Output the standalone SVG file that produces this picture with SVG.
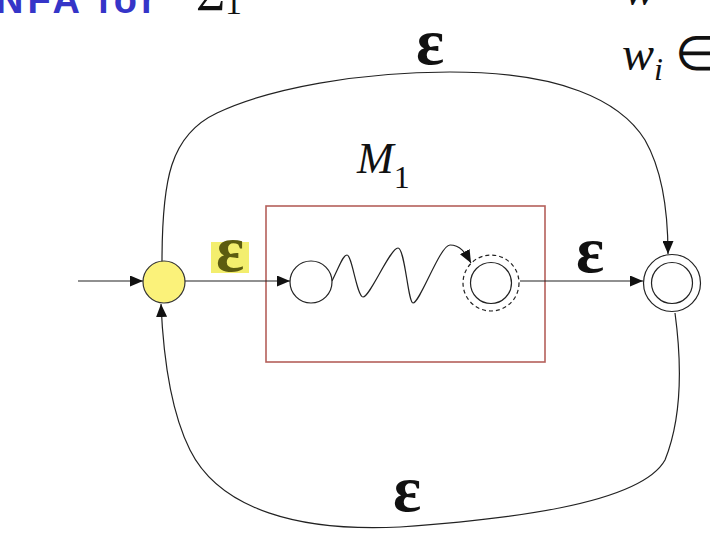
<svg xmlns="http://www.w3.org/2000/svg" width="710" height="542" viewBox="0 0 710 542">
<style>
.edge{fill:none;stroke:#222;stroke-width:1.2}
.state{fill:#fff;stroke:#222;stroke-width:1.2}
.eps{font-family:"Liberation Serif",serif;font-weight:bold;font-size:66px;fill:#111;text-anchor:middle}
.math{font-family:"Liberation Serif",serif;fill:#111}
</style>
<defs>
<marker id="ah" viewBox="0 0 13 11" refX="13" refY="5.5" markerWidth="13" markerHeight="11" markerUnits="userSpaceOnUse" orient="auto">
<path d="M0,0 L13,5.5 L0,11 z" fill="#111"/>
</marker>
</defs>
<rect width="710" height="542" fill="#fff"/>
<text x="-4" y="13" font-family="Liberation Sans,sans-serif" font-weight="bold" font-size="38" letter-spacing="4" fill="#3535c8">NFA for</text>
<text class="math" x="196" y="10" font-size="50">Σ<tspan font-size="34" dy="4">1</tspan></text>
<text class="math" x="624" y="5" font-size="48" font-style="italic">w</text>
<text class="math" x="622" y="70" font-size="48"><tspan font-style="italic">w</tspan><tspan font-style="italic" font-size="32" dy="10">i</tspan><tspan dy="-10" dx="12">∈</tspan></text>

<rect id="box" x="266" y="206" width="279" height="156" fill="none" stroke="#b5605a" stroke-width="1.6"/>
<text id="m1label" class="math" x="357" y="173" font-size="44" font-style="italic">M<tspan font-style="normal" font-size="32" dy="15">1</tspan></text>

<g id="connectors">
<line class="edge" x1="78" y1="281" x2="143" y2="281" marker-end="url(#ah)"/>
<line class="edge" x1="185" y1="281" x2="290" y2="281" marker-end="url(#ah)"/>
<path class="edge" d="M332,281 C340,265 343,255 347,255 C352,255 357,297 363,297 C370,297 390,248 398,248 C405,248 408,303 413,303 C420,303 440,245 450,245 C460,245 465,252 471,263" marker-end="url(#ah)"/>
<line class="edge" x1="520" y1="281" x2="643" y2="281" marker-end="url(#ah)"/>
<path class="edge" d="M162,262 C162,180 170,135 217,113 C270,88 360,72 450,72 C560,72 620,100 645,140 C665,175 668,220 668,254" marker-end="url(#ah)"/>
<path class="edge" d="M675,313 C680,350 685,410 665,460 C640,505 500,520 400,527 C300,532 220,510 190,450 C170,410 163,350 161,304" marker-end="url(#ah)"/>
</g>

<g id="eps-start">
<rect x="211" y="242" width="38" height="31" fill="#f3ee6e"/>
<text class="eps" x="230" y="271" style="fill:#5c5c10">ε</text>
</g>
<text class="eps" x="590" y="272">ε</text>
<text class="eps" x="430" y="64">ε</text>
<text class="eps" x="407" y="511">ε</text>

<g id="q0">
<circle cx="164" cy="282" r="21" fill="#fbf27a" stroke="#333" stroke-width="1.2"/>
</g>
<g id="m1start">
<circle class="state" cx="311" cy="282" r="21"/>
</g>
<g id="m1final">
<circle cx="491" cy="283" r="28" fill="#fff" stroke="#222" stroke-width="1.2" stroke-dasharray="4,3"/>
<circle class="state" cx="491" cy="283" r="20.5"/>
</g>
<g id="final">
<circle class="state" cx="672" cy="283" r="28.5"/>
<circle class="state" cx="672" cy="283" r="20.5"/>
</g>
</svg>
